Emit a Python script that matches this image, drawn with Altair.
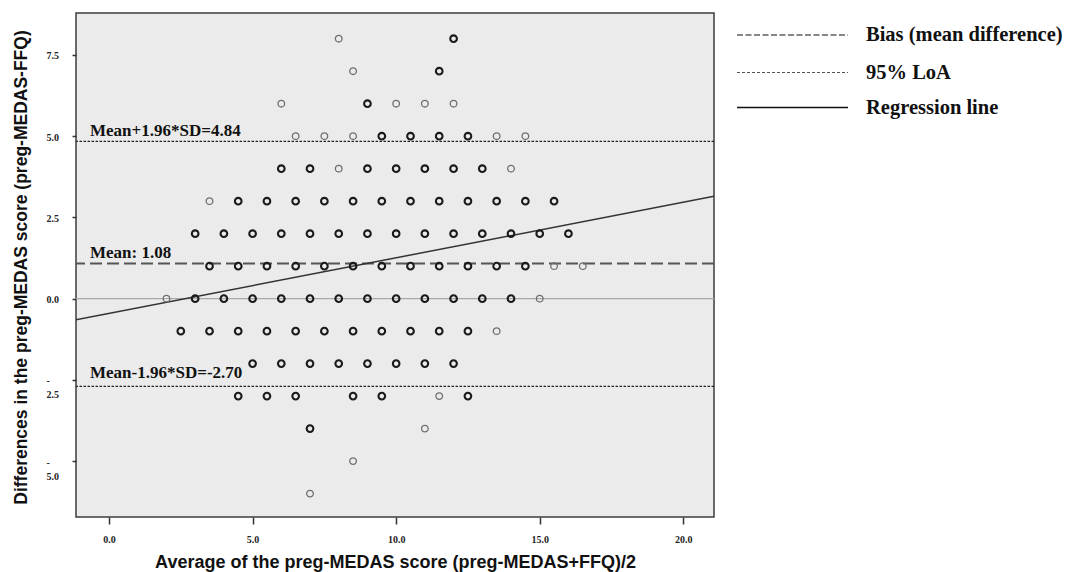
import altair as alt
import pandas as pd

# ---- data ----
diff_levels = [8, 7, 6, 5, 4, 3, 2, 1, 0, -1, -2, -3, -4, -5, -6]
# averages whose marker is drawn dark (several overlapping cases)
dark_avgs = [
    [12],
    [11.5],
    [9],
    [9.5, 10.5, 11.5, 12.5],
    [6, 7, 9, 10, 11, 12, 13],
    [4.5, 5.5, 6.5, 7.5, 8.5, 9.5, 10.5, 11.5, 12.5, 13.5, 14.5, 15.5],
    [3, 4, 5, 6, 7, 8, 9, 10, 11, 12, 13, 14, 15, 16],
    [3.5, 4.5, 5.5, 6.5, 7.5, 8.5, 9.5, 10.5, 11.5, 12.5, 13.5, 14.5],
    [3, 4, 5, 6, 7, 8, 9, 10, 11, 12, 13, 14],
    [2.5, 3.5, 4.5, 5.5, 6.5, 7.5, 8.5, 9.5, 10.5, 11.5, 12.5],
    [5, 6, 7, 8, 9, 10, 11, 12],
    [4.5, 5.5, 6.5, 8.5, 9.5, 12.5],
    [7],
    [],
    [],
]
# averages whose marker is drawn light (single case)
light_avgs = [
    [8],
    [8.5],
    [6, 10, 11, 12],
    [6.5, 7.5, 8.5, 13.5, 14.5],
    [8, 14],
    [3.5],
    [],
    [15.5, 16.5],
    [2, 15],
    [13.5],
    [],
    [11.5],
    [11],
    [8.5],
    [7],
]

bias = [1.08]
loa = [4.84, -2.70]
reg_intercept = -0.453
reg_slope = 0.171

x_domain = [-1.15, 21.07]
y_domain = [-6.72, 8.79]
x_ticks = [0, 5, 10, 15, 20]
y_ticks = [-5, -2.5, 0, 2.5, 5, 7.5]

legend_labels = ["Bias (mean difference)", "95% LoA", "Regression line"]
annot_texts = ["Mean+1.96*SD=4.84", "Mean: 1.08", "Mean-1.96*SD=-2.70"]
annot_values = [4.84, 1.08, -2.70]

x_title = "Average of the preg-MEDAS score (preg-MEDAS+FFQ)/2"
y_title = "Differences in the preg-MEDAS score (preg-MEDAS-FFQ)"

# ---- tables ----
rows = []
for d, dk, lt in zip(diff_levels, dark_avgs, light_avgs):
    for a in dk:
        rows.append({"avg": a, "diff": d, "overlap": "multiple"})
    for a in lt:
        rows.append({"avg": a, "diff": d, "overlap": "single"})
points_df = pd.DataFrame(rows)

reg_df = pd.DataFrame({"avg": x_domain})
reg_df["diff"] = reg_intercept + reg_slope * reg_df["avg"]

SERIF = "Liberation Serif"
SANS = "Liberation Sans"

x_scale = alt.Scale(domain=x_domain, nice=False, zero=False)
y_scale = alt.Scale(domain=y_domain, nice=False, zero=False)

x_axis = alt.Axis(
    values=x_ticks, format=".1f", grid=False, domain=False,
    labelFont=SERIF, labelFontWeight="bold", labelFontSize=10, labelColor="#222",
    tickSize=7, tickColor="#333", tickWidth=1.5, labelPadding=10,
    title=x_title, titleFont=SANS, titleFontWeight="bold", titleFontSize=18,
    titleColor="#111", titleY=45, titleBaseline="middle",
)
y_axis = alt.Axis(
    values=y_ticks, grid=False, domain=False,
    labelExpr="datum.value < 0 ? ['-', format(-datum.value, '.1f')] : format(datum.value, '.1f')",
    labelFont=SERIF, labelFontWeight="bold", labelFontSize=10, labelColor="#222",
    labelAlign="left", labelBaseline="top", labelOffset=-4, labelLineHeight=14,
    labelPadding=26, labelOverlap=False,
    tickSize=4, tickColor="#333", tickWidth=1.5,
    title=y_title, titleFont=SANS, titleFontWeight="bold", titleFontSize=17.5,
    titleColor="#111", titleX=-55, titleY=254, titleAngle=270,
    titleAlign="center", titleBaseline="middle",
)

X = alt.X("avg:Q", scale=x_scale, axis=x_axis)
Y = alt.Y("diff:Q", scale=y_scale, axis=y_axis)

zero_line = alt.Chart(pd.DataFrame({"diff": [0]})).mark_rule(
    color="#a9a9a9", strokeWidth=1.2
).encode(y=Y)

loa_lines = alt.Chart(pd.DataFrame({"diff": loa})).mark_rule(
    color="#222", strokeWidth=1.2, strokeDash=[2.5, 1.5]
).encode(y=Y)

bias_line = alt.Chart(pd.DataFrame({"diff": bias})).mark_rule(
    color="#555", strokeWidth=2, strokeDash=[12, 5]
).encode(y=Y)

reg_line = alt.Chart(reg_df).mark_line(
    color="#333", strokeWidth=1.5, clip=True
).encode(x=X, y=Y)

points = alt.Chart(points_df).mark_point(
    shape="circle", filled=False, size=44, opacity=1
).encode(
    x=X, y=Y,
    stroke=alt.Stroke("overlap:N", scale=alt.Scale(domain=["multiple", "single"],
                                                   range=["#1a1a1a", "#6e6e6e"]), legend=None),
    strokeWidth=alt.StrokeWidth("overlap:N", scale=alt.Scale(domain=["multiple", "single"],
                                                             range=[2.1, 1.3]), legend=None),
)

annot_df = pd.DataFrame({"diff": annot_values, "label": annot_texts,
                         "dy": [-5, -6, -8]})
annots = []
for i in range(len(annot_texts)):
    annots.append(
        alt.Chart(annot_df.iloc[[i]]).mark_text(
            align="left", baseline="alphabetic", font=SERIF, fontWeight="bold",
            fontSize=17, color="#111", dy=float(annot_df["dy"].iloc[i])
        ).encode(x=alt.value(14), y=Y, text="label:N")
    )

# ---- custom legend (outside plot area, right side) ----
leg_y = [22, 59.5, 94.5]
leg_styles = [
    {"color": "#111", "strokeWidth": 1.1, "strokeDash": [6, 2.5]},
    {"color": "#555", "strokeWidth": 1.0, "strokeDash": [3, 2]},
    {"color": "#111", "strokeWidth": 1.5, "strokeDash": [1, 0]},
]
legend_layers = []
for i, lab in enumerate(legend_labels):
    legend_layers.append(
        alt.Chart(pd.DataFrame({"label": [lab]})).mark_rule(
            color=leg_styles[i]["color"], strokeWidth=leg_styles[i]["strokeWidth"],
            strokeDash=leg_styles[i]["strokeDash"]
        ).encode(x=alt.value(661), x2=alt.value(772), y=alt.value(leg_y[i]))
    )
    legend_layers.append(
        alt.Chart(pd.DataFrame({"label": [lab]})).mark_text(
            align="left", baseline="middle", font=SERIF, fontWeight="bold",
            fontSize=20.5, color="#111"
        ).encode(x=alt.value(790), y=alt.value(leg_y[i]), text="label:N")
    )

chart = alt.layer(
    zero_line, loa_lines, bias_line, reg_line, points, *annots, *legend_layers
).properties(
    width=638, height=504,
    autosize=alt.AutoSizeParams(type="none"),
    padding={"left": 68, "top": 5, "right": 352, "bottom": 55},
    background="white",
).configure_view(
    fill="#ebebeb", stroke="#3c3c3c", strokeWidth=1.5
)

chart.save("out.html", embed_options={"renderer": "svg", "actions": False})
